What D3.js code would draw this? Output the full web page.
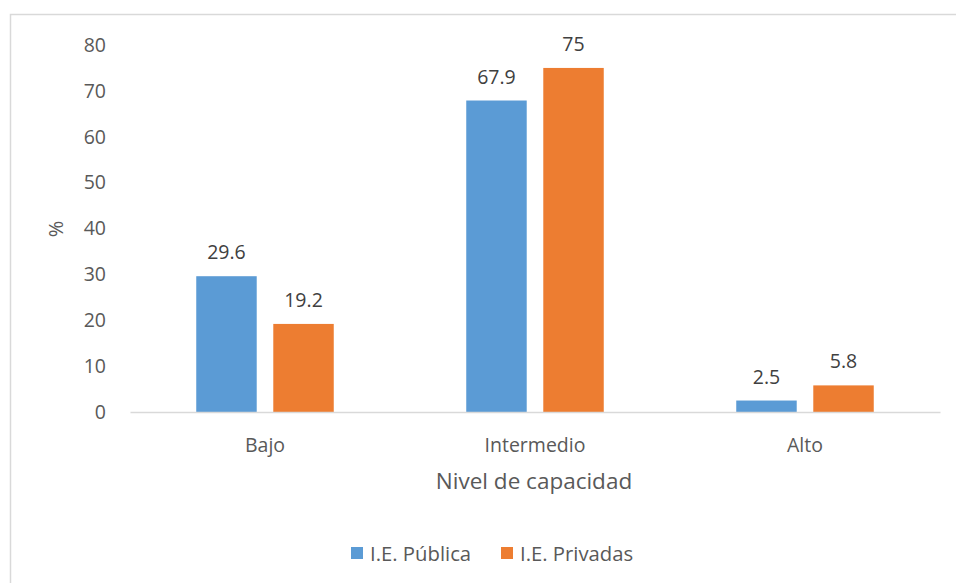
<!DOCTYPE html>
<html><head><meta charset="utf-8">
<script src="https://cdn.jsdelivr.net/npm/d3@7"></script>
<style>body{margin:0;background:#fff}svg{display:block}text{font-family:"Open Sans",sans-serif}</style>
</head><body><svg id="c" width="956" height="583"></svg>
<script>
const categories = ["Bajo", "Intermedio", "Alto"];
const seriesNames = ["I.E. Pública", "I.E. Privadas"];
const publica = [29.6, 67.9, 2.5];
const privadas = [19.2, 75, 5.8];
const yTicks = [0, 10, 20, 30, 40, 50, 60, 70, 80];
const colors = ["#5b9bd5", "#ed7d31"];

const svg = d3.select("#c");
// chart border
svg.append("rect").attr("x", 10.5).attr("y", 14.5).attr("width", 960).attr("height", 600)
  .attr("fill", "none").attr("stroke", "#d9d9d9").attr("stroke-width", 1.5);

const pL = 130, pR = 940, pT = 45, pB = 412;
const x0 = d3.scaleBand().domain(categories).range([pL, pR]).paddingInner(0).paddingOuter(0);
const x1 = d3.scaleBand().domain(seriesNames).range([0, x0.bandwidth()]).paddingInner(0.215).paddingOuter(0.86);
const y = d3.scaleLinear().domain([0, 80]).range([pB, pT]);

const rows = categories.map((c, i) => ({cat: c, vals: [publica[i], privadas[i]]}));

const g = svg.append("g");
rows.forEach(r => {
  r.vals.forEach((v, j) => {
    const bx = x0(r.cat) + x1(seriesNames[j]);
    g.append("rect").attr("x", bx).attr("y", y(v)).attr("width", x1.bandwidth())
      .attr("height", y(0) - y(v)).attr("fill", colors[j]);
    g.append("text").attr("x", bx + x1.bandwidth() / 2).attr("y", y(v) - 17)
      .attr("text-anchor", "middle").attr("font-size", 19.5).attr("fill", "#404040").text(v);
  });
});

// x axis
const xAxis = d3.axisBottom(x0).tickSize(0).tickPadding(26);
const xa = svg.append("g").attr("transform", `translate(0,${pB})`).call(xAxis);
xa.select(".domain").attr("stroke", "#d9d9d9").attr("stroke-width", 1.5);
xa.selectAll("text").attr("font-size", 19.5).attr("fill", "#595959").attr("font-family", "'Open Sans',sans-serif");

// y axis
const yAxis = d3.axisLeft(y).tickValues(yTicks).tickSize(0).tickPadding(24);
const ya = svg.append("g").attr("transform", `translate(${pL},0)`).call(yAxis);
ya.select(".domain").remove();
ya.selectAll("text").attr("font-size", 19.5).attr("fill", "#595959").attr("font-family", "'Open Sans',sans-serif");

svg.append("text").attr("transform", "translate(63,229) rotate(-90)").attr("text-anchor", "middle")
  .attr("font-size", 20).attr("fill", "#595959").text("%");
svg.append("text").attr("x", 534).attr("y", 489).attr("text-anchor", "middle")
  .attr("font-size", 22.5).attr("fill", "#595959").text("Nivel de capacidad");

// legend
const legX = [351, 501];
seriesNames.forEach((s, j) => {
  svg.append("rect").attr("x", legX[j]).attr("y", 547).attr("width", 12).attr("height", 12).attr("fill", colors[j]);
  svg.append("text").attr("x", legX[j] + 19).attr("y", 561).attr("font-size", 20.3).attr("fill", "#595959").text(s);
});
</script></body></html>
